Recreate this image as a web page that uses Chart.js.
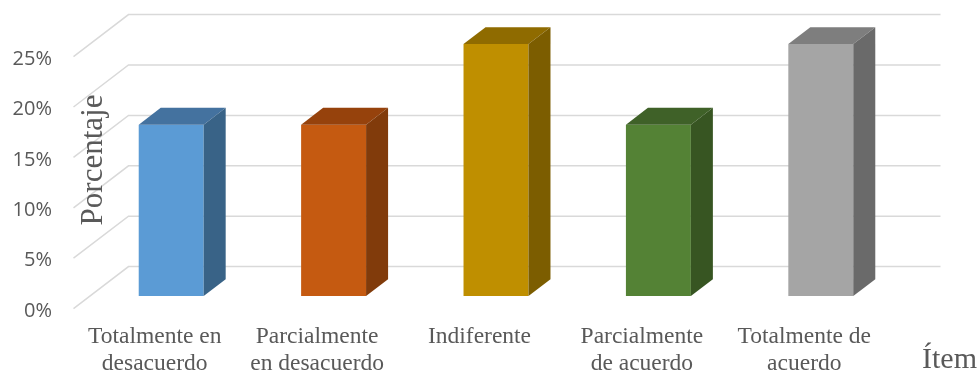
<!DOCTYPE html>
<html lang="es">
<head>
<meta charset="utf-8">
<title>Porcentaje por ítem</title>
<script src="https://cdn.jsdelivr.net/npm/chart.js@4"></script>
<style>
  html, body { margin: 0; padding: 0; background: #fff; }
</style>
</head>
<body>
<canvas id="chart" width="977" height="376"></canvas>
<script>
/* ── Datos ── */
const categorias = [
  ['Totalmente en', 'desacuerdo'],
  ['Parcialmente', 'en desacuerdo'],
  'Indiferente',
  ['Parcialmente', 'de acuerdo'],
  ['Totalmente de', 'acuerdo'],
];
const porcentajes = [17, 17, 25, 17, 25];
const ticksY = [0, 5, 10, 15, 20, 25];

/* ── Colores: cara frontal, tapa y lateral de cada barra ── */
const frente = ['#5B9BD5', '#C55A11', '#BF8F00', '#548235', '#A5A5A5'];
const tapa   = ['#44729F', '#96420C', '#8F6B00', '#3F6128', '#7E7E7E'];
const lado   = ['#396387', '#813B0B', '#7C5D00', '#375522', '#6A6A6A'];

const GRIS_TEXTO = '#595959';
const SERIF = '"Liberation Serif", "Times New Roman", serif';

// Profundidad del piso (px) y posición/espesor de las barras dentro de ella
const PROF_X = 55, PROF_Y = 42;
const POS_FRENTE = 0.3, ESPESOR = 0.4;

function poligono(ctx, pts) {
  ctx.beginPath();
  ctx.moveTo(pts[0][0], pts[0][1]);
  for (let k = 1; k < pts.length; k++) ctx.lineTo(pts[k][0], pts[k][1]);
  ctx.closePath();
  ctx.fill();
}

const efecto3d = {
  id: 'efecto3d',
  // Rejilla en perspectiva: diagonal del piso lateral + línea de la pared del fondo
  beforeDatasetsDraw(chart) {
    const { ctx, chartArea: a, scales: { y } } = chart;
    const fx = -POS_FRENTE * PROF_X, fy = POS_FRENTE * PROF_Y;
    const bx = (1 - POS_FRENTE) * PROF_X, by = -(1 - POS_FRENTE) * PROF_Y;
    ctx.save();
    ctx.strokeStyle = '#D9D9D9';
    ctx.lineWidth = 1.5;
    y.ticks.forEach(t => {
      const py = y.getPixelForValue(t.value);
      ctx.beginPath();
      ctx.moveTo(a.left + fx, py + fy);
      ctx.lineTo(a.left + bx, py + by);
      ctx.lineTo(a.right + bx, py + by);
      ctx.stroke();
    });
    ctx.restore();
  },
  // Tapa y lateral de cada barra
  afterDatasetsDraw(chart) {
    const { ctx } = chart;
    const dx = ESPESOR * PROF_X, dy = -ESPESOR * PROF_Y;
    ctx.save();
    chart.getDatasetMeta(0).data.forEach((bar, i) => {
      const { x, y, base, width } = bar.getProps(['x', 'y', 'base', 'width'], true);
      const l = x - width / 2, r = x + width / 2;
      ctx.fillStyle = tapa[i];
      poligono(ctx, [[l, y], [r, y], [r + dx, y + dy], [l + dx, y + dy]]);
      ctx.fillStyle = lado[i];
      poligono(ctx, [[r, y], [r + dx, y + dy], [r + dx, base + dy], [r, base]]);
    });
    ctx.restore();
  },
  // Títulos de los ejes
  afterDraw(chart) {
    const { ctx, chartArea: a } = chart;
    ctx.save();
    ctx.fillStyle = GRIS_TEXTO;
    ctx.font = '31px ' + SERIF;
    ctx.textAlign = 'center';
    ctx.textBaseline = 'alphabetic';
    ctx.translate(a.left + 12, a.top + 116);
    ctx.rotate(-Math.PI / 2);
    ctx.fillText('Porcentaje', 0, 0);
    ctx.restore();

    ctx.save();
    ctx.fillStyle = GRIS_TEXTO;
    ctx.font = '30px ' + SERIF;
    ctx.textAlign = 'left';
    ctx.textBaseline = 'alphabetic';
    ctx.fillText('Ítem', a.right + 20, chart.height - 8);
    ctx.restore();
  },
};

new Chart(document.getElementById('chart'), {
  type: 'bar',
  data: {
    labels: categorias,
    datasets: [{
      data: porcentajes,
      backgroundColor: frente,
      borderWidth: 0,
      categoryPercentage: 1,
      barPercentage: 0.4,
    }],
  },
  options: {
    responsive: false,
    animation: false,
    layout: { padding: { top: 44, right: 75, bottom: 0, left: 12 } },
    plugins: { legend: { display: false }, tooltip: { enabled: false } },
    scales: {
      x: {
        grid: { display: false, drawTicks: false },
        border: { display: false },
        ticks: {
          color: GRIS_TEXTO,
          font: { family: SERIF, size: 23.5, lineHeight: 1.15 },
          padding: 27,
          labelOffset: -16.5,
          maxRotation: 0,
          autoSkip: false,
        },
        afterFit(s) { s.height = 80; },
      },
      y: {
        min: 0,
        max: 25,
        grid: { display: false, drawTicks: false },
        border: { display: false },
        afterBuildTicks(s) { s.ticks = ticksY.map(v => ({ value: v })); },
        ticks: {
          color: GRIS_TEXTO,
          font: { family: '"Open Sans", sans-serif', size: 20 },
          padding: 38,
          labelOffset: 15,
          callback: v => v + '%',
        },
        // ancho fijo; el padding de las etiquetas no debe empujar el área hacia abajo
        afterFit(s) { s.width = 78; s.paddingTop = 0; s.paddingBottom = 0; },
      },
    },
  },
  plugins: [efecto3d],
});
</script>
</body>
</html>
